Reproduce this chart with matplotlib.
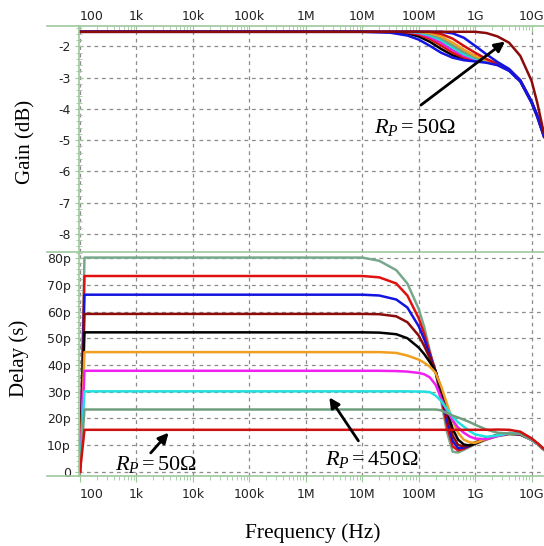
import matplotlib
matplotlib.use("Agg")
import matplotlib.pyplot as plt
from matplotlib.lines import Line2D
from matplotlib.ticker import FixedLocator, LogLocator, MultipleLocator, NullFormatter

plt.rcParams['axes.unicode_minus'] = False
plt.rcParams['mathtext.fontset'] = 'custom'
plt.rcParams['mathtext.rm'] = 'Liberation Serif'
plt.rcParams['mathtext.it'] = 'Liberation Serif:italic'

# ---------------- data ----------------
x_ticks = [1e2, 1e3, 1e4, 1e5, 1e6, 1e7, 1e8, 1e9, 1e10]
x_tick_labels = ["100", "1k", "10k", "100k", "1M", "10M", "100M", "1G", "10G"]
gain_ticks = [-8, -7, -6, -5, -4, -3, -2]
delay_ticks = [0, 10, 20, 30, 40, 50, 60, 70, 80]
delay_tick_labels = ["0", "10p", "20p", "30p", "40p", "50p", "60p", "70p", "80p"]

gain_freq = [100, 1e7, 3.16e7, 6.3e7, 1e8, 1.58e8, 2.5e8, 4e8, 6.3e8, 1e9,
             1.58e9, 2.5e9, 4e9, 6.3e9, 1e10, 1.26e10, 1.66e10]
gain_colors = ["#000000", "#e01010", "#e020e0", "#20d8d8", "#6fa080",
               "#f0a020", "#d01010", "#1414e0", "#1414e0", "#8b0a0a"]
gain_black = [-1.53, -1.53, -1.53, -1.58, -1.68, -1.85, -2.08, -2.28, -2.40, -2.46, -2.50, -2.58, -2.77, -3.11, -3.79, -4.24, -4.88]
gain_red1 = [-1.53, -1.53, -1.53, -1.55, -1.62, -1.76, -1.97, -2.20, -2.36, -2.44, -2.50, -2.58, -2.77, -3.11, -3.79, -4.24, -4.88]
gain_magenta = [-1.53, -1.53, -1.53, -1.53, -1.58, -1.70, -1.88, -2.12, -2.30, -2.42, -2.49, -2.58, -2.76, -3.10, -3.78, -4.23, -4.87]
gain_cyan = [-1.53, -1.53, -1.53, -1.53, -1.56, -1.65, -1.80, -2.04, -2.25, -2.39, -2.48, -2.58, -2.76, -3.10, -3.78, -4.23, -4.87]
gain_green = [-1.53, -1.53, -1.53, -1.53, -1.53, -1.60, -1.74, -1.96, -2.18, -2.35, -2.46, -2.57, -2.75, -3.09, -3.77, -4.22, -4.86]
gain_orange = [-1.53, -1.53, -1.53, -1.53, -1.53, -1.57, -1.68, -1.88, -2.10, -2.30, -2.44, -2.57, -2.75, -3.09, -3.77, -4.22, -4.86]
gain_red2 = [-1.53, -1.53, -1.53, -1.53, -1.53, -1.53, -1.60, -1.75, -1.98, -2.20, -2.40, -2.56, -2.74, -3.08, -3.76, -4.21, -4.85]
gain_blue_low = [-1.53, -1.53, -1.56, -1.65, -1.78, -1.98, -2.20, -2.36, -2.44, -2.48, -2.52, -2.60, -2.78, -3.12, -3.80, -4.25, -4.90]
gain_blue_up = [-1.53, -1.53, -1.53, -1.53, -1.53, -1.53, -1.53, -1.58, -1.72, -1.98, -2.25, -2.50, -2.72, -3.08, -3.76, -4.20, -4.85]
gain_darkred = [-1.53, -1.53, -1.53, -1.53, -1.53, -1.53, -1.53, -1.53, -1.53, -1.53, -1.57, -1.68, -1.88, -2.30, -3.10, -3.80, -4.80]
gain_series = [gain_black, gain_red1, gain_magenta, gain_cyan, gain_green,
               gain_orange, gain_red2, gain_blue_low, gain_blue_up, gain_darkred]

delay_freq = [100, 120, 1e7, 2e7, 4e7, 6.3e7, 1e8, 1.26e8, 1.58e8, 2e8, 2.5e8,
              3.16e8, 4e8, 5e8, 6.3e8, 8e8, 1e9, 1.58e9, 2.5e9, 4e9, 6.3e9,
              1e10, 1.26e10, 1.66e10]
delay_colors = ["#78a88c", "#e01010", "#1414e0", "#8b0a0a", "#000000",
                "#f0a020", "#f020f0", "#20e0e0", "#6f9f7f", "#d01010"]
delay_c0 = [0, 80.2, 80.2, 79.0, 75.5, 70.5, 61.0, 54.0, 45.0, 37.0, 26.5, 15.0, 7.5, 7.2, 8.2, 9.3, 10.3, 12.0, 13.3, 14.0, 13.8, 12.0, 10.5, 8.3]
delay_c1 = [0, 73.3, 73.3, 72.8, 70.5, 66.0, 57.5, 51.5, 44.5, 37.5, 28.0, 17.5, 9.5, 8.0, 8.6, 9.6, 10.6, 12.2, 13.5, 14.2, 14.0, 12.0, 10.5, 8.3]
delay_c2 = [0, 66.3, 66.3, 66.0, 64.5, 61.5, 54.5, 49.5, 43.5, 37.5, 29.0, 19.5, 11.5, 8.8, 9.0, 9.8, 10.8, 12.4, 13.6, 14.3, 14.0, 12.0, 10.5, 8.3]
delay_c3 = [0, 59.1, 59.1, 59.0, 58.2, 56.0, 51.0, 47.0, 42.5, 37.5, 30.0, 21.5, 13.5, 10.0, 9.5, 10.0, 11.0, 12.6, 13.8, 14.4, 14.1, 12.0, 10.5, 8.3]
delay_c4 = [0, 52.2, 52.2, 52.1, 51.5, 50.0, 46.5, 44.0, 41.0, 37.5, 31.0, 23.5, 16.0, 12.0, 10.2, 9.8, 10.5, 12.4, 13.8, 14.5, 14.2, 12.0, 10.5, 8.3]
delay_c5 = [0, 44.8, 44.8, 44.8, 44.5, 43.5, 42.0, 40.8, 39.3, 37.0, 32.0, 25.5, 19.0, 14.5, 12.0, 11.0, 10.8, 12.3, 13.7, 14.5, 14.3, 12.0, 10.5, 8.3]
delay_c6 = [0, 37.8, 37.8, 37.8, 37.7, 37.5, 37.0, 36.5, 35.3, 32.5, 27.5, 23.0, 19.2, 16.5, 14.6, 13.2, 12.4, 12.2, 13.4, 14.4, 14.3, 12.0, 10.5, 8.3]
delay_c7 = [0, 30.1, 30.1, 30.1, 30.1, 30.1, 30.0, 30.0, 29.8, 28.5, 26.5, 23.5, 20.5, 18.5, 16.9, 15.2, 14.0, 13.1, 13.6, 14.4, 14.3, 12.0, 10.5, 8.3]
delay_c8 = [0, 23.3, 23.3, 23.3, 23.3, 23.3, 23.3, 23.3, 23.3, 23.3, 23.0, 22.0, 21.0, 20.3, 19.5, 18.6, 17.6, 15.8, 14.6, 14.3, 14.2, 12.0, 10.5, 8.3]
delay_c9 = [0, 15.7, 15.7, 15.7, 15.7, 15.7, 15.7, 15.7, 15.7, 15.7, 15.7, 15.7, 15.7, 15.7, 15.7, 15.7, 15.7, 15.7, 15.8, 15.7, 15.0, 12.5, 10.8, 8.5]
delay_series = [delay_c0, delay_c1, delay_c2, delay_c3, delay_c4,
                delay_c5, delay_c6, delay_c7, delay_c8, delay_c9]

# ---------------- figure ----------------
W, H = 544, 546
fig = plt.figure(figsize=(W / 100, H / 100), dpi=100)
GREEN = "#9cc89c"
GRID = "#8c8c8c"
XLIM = (96, 1.66e10)

ax1 = fig.add_axes([79 / W, 1 - 251.7 / H, (W - 79) / W, (251.7 - 26) / H])
ax2 = fig.add_axes([79 / W, 1 - 476 / H, (W - 79) / W, (476 - 251.7) / H])

for c, s in zip(gain_colors, gain_series):
    ax1.plot(gain_freq, s, color=c, lw=1.8, solid_joinstyle='round')
for c, s in zip(delay_colors, delay_series):
    ax2.plot(delay_freq, s, color=c, lw=1.8, solid_joinstyle='round')

for ax in (ax1, ax2):
    ax.set_xscale('log')
    ax.set_xlim(*XLIM)
    ax.xaxis.set_major_locator(FixedLocator(x_ticks))
    ax.set_xticklabels(x_tick_labels)
    ax.xaxis.set_minor_locator(LogLocator(base=10, subs=(2, 3, 4, 5, 6, 7, 8, 9), numticks=20))
    ax.xaxis.set_minor_formatter(NullFormatter())
    ax.grid(True, which='major', color=GRID, lw=0.9, linestyle=(0, (3, 3)))
    ax.spines['right'].set_visible(False)
    for sp in ('left', 'top', 'bottom'):
        ax.spines[sp].set_color(GREEN)
        ax.spines[sp].set_linewidth(1.2)
    ax.tick_params(axis='both', which='both', color=GREEN, labelsize=9,
                   labelcolor='#222222')
    ax.tick_params(axis='y', which='major', direction='inout', length=6, pad=3)
    ax.tick_params(axis='y', which='minor', direction='inout', length=4)
    ax.get_xticklabels()[0].set_horizontalalignment('left')

# top panel
ax1.set_ylim(-8.57, -1.345)
ax1.yaxis.set_major_locator(FixedLocator(gain_ticks))
ax1.set_yticklabels([str(v) for v in gain_ticks])
ax1.yaxis.set_minor_locator(MultipleLocator(0.2))
ax1.xaxis.tick_top()
ax1.tick_params(axis='x', which='major', direction='in', length=4, pad=2)
ax1.tick_params(axis='x', which='minor', direction='in', length=3)
ax1.spines['bottom'].set_visible(False)
ax1.get_xticklabels()[0].set_horizontalalignment('left')

# bottom panel
ax2.set_ylim(-1.6, 82.4)
ax2.yaxis.set_major_locator(FixedLocator(delay_ticks))
ax2.set_yticklabels(delay_tick_labels)
ax2.yaxis.set_minor_locator(MultipleLocator(2))
ax2.tick_params(axis='x', which='major', direction='out', length=4, pad=5)
ax2.tick_params(axis='x', which='minor', direction='out', length=3)
ax2.get_xticklabels()[0].set_horizontalalignment('left')

# axis titles
fig.text(26 / W, 1 - 142 / H, "Gain (dB)", family='Liberation Serif',
         fontsize=15, rotation=90, ha='center', va='center')
fig.text(19 / W, 1 - 358 / H, "Delay (s)", family='Liberation Serif',
         fontsize=15, rotation=90, ha='center', va='center')
fig.text(313 / W, 1 - 533 / H, "Frequency (Hz)", family='Liberation Serif',
         fontsize=15.5, ha='center', va='center')

# axis line extensions to the left
for yy in (26, 251.7, 476):
    fig.add_artist(Line2D([47 / W, 79 / W], [1 - yy / H, 1 - yy / H],
                          transform=fig.transFigure, color=GREEN, lw=1.2))

# annotations
arrow = dict(arrowstyle='-|>,head_length=0.6,head_width=0.3', color='black', lw=2)
ax1.annotate("", xy=(3.7e9, -1.79), xytext=(1e8, -3.93), arrowprops=arrow)
ax1.text(8.5e7, -4.6, r"$R_P = 50\Omega$", fontsize=16, ha='center', va='center')
ax2.annotate("", xy=(4.0e3, 15.4), xytext=(1.66e3, 6.25), arrowprops=arrow)
ax2.text(2.2e3, 2.7, r"$R_P = 50\Omega$", fontsize=16, ha='center', va='center')
ax2.annotate("", xy=(2.45e6, 28.7), xytext=(9.1e6, 10.7), arrowprops=arrow)
ax2.text(1.5e7, 4.4, r"$R_P = 450\Omega$", fontsize=16, ha='center', va='center')

fig.savefig("out.png", dpi=100)
